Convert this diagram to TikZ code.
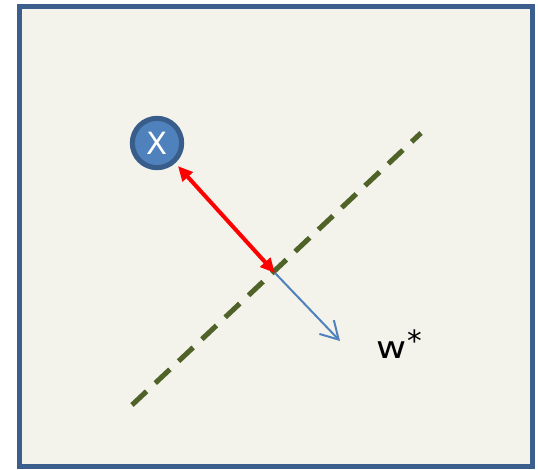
\documentclass[tikz,border=0pt]{standalone}
\usepackage{fontspec}
\setmainfont{DejaVu Sans}
\usetikzlibrary{arrows.meta,positioning}
\definecolor{cFrame}{HTML}{3B5E8C}
\definecolor{cPaper}{HTML}{F3F2EB}
\definecolor{cPt}  {HTML}{4F81BD}
\definecolor{cPtRim}{HTML}{385D8A}
\definecolor{cSep} {HTML}{4F6228}
\definecolor{cNorm}{HTML}{4F81BD}
\tikzset{
  frm/.style  ={draw=cFrame,fill=cPaper,line width=3.8pt},
  pt/.style   ={circle,draw=cPtRim,fill=cPt,line width=3.8pt,minimum size=37pt,
                inner sep=0pt,text=white,font=\fontsize{23}{23}\selectfont},
  sep/.style  ={draw=cSep,line width=3.8pt,dash pattern=on 15pt off 9pt},
  dist/.style ={{Triangle[length=11pt,width=10pt]}-{Triangle[length=11pt,width=10pt]},
                draw=red,fill=red,line width=3pt,shorten <=3pt},
  nrm/.style  ={-{Straight Barb[length=13pt,width=15pt,line width=1.5pt]},
                draw=cNorm,line width=1.5pt},
  lbl/.style  ={font=\fontsize{23}{23}\selectfont,inner sep=0pt},
}
\begin{document}
\begin{tikzpicture}[x=0.75pt,y=-0.75pt]
\useasboundingbox (0,0) rectangle (538,469);
\draw[frm] (19.5,6.5) rectangle (532.5,466.5);

% ---- separating line ----------------------------------------------------
\coordinate (s0) at (132,405);
\coordinate (s1) at (421,133);
\draw[sep] (s0) -- (s1);

% ---- point and its distance ---------------------------------------------
\node[pt] (x) at (157,143) {X};
\coordinate (ft) at (275,273);
\draw[dist] (x) -- (ft);

% ---- normal vector ------------------------------------------------------
\coordinate (nw) at (340,341);
\draw[nrm] (ft) -- (nw);
\node[lbl,anchor=base west] (w) at (376,358)
  {\scalebox{1.2}[1]{w}\hspace{1pt}\raisebox{5pt}{\fontsize{22}{22}\selectfont *}};
\end{tikzpicture}
\end{document}
